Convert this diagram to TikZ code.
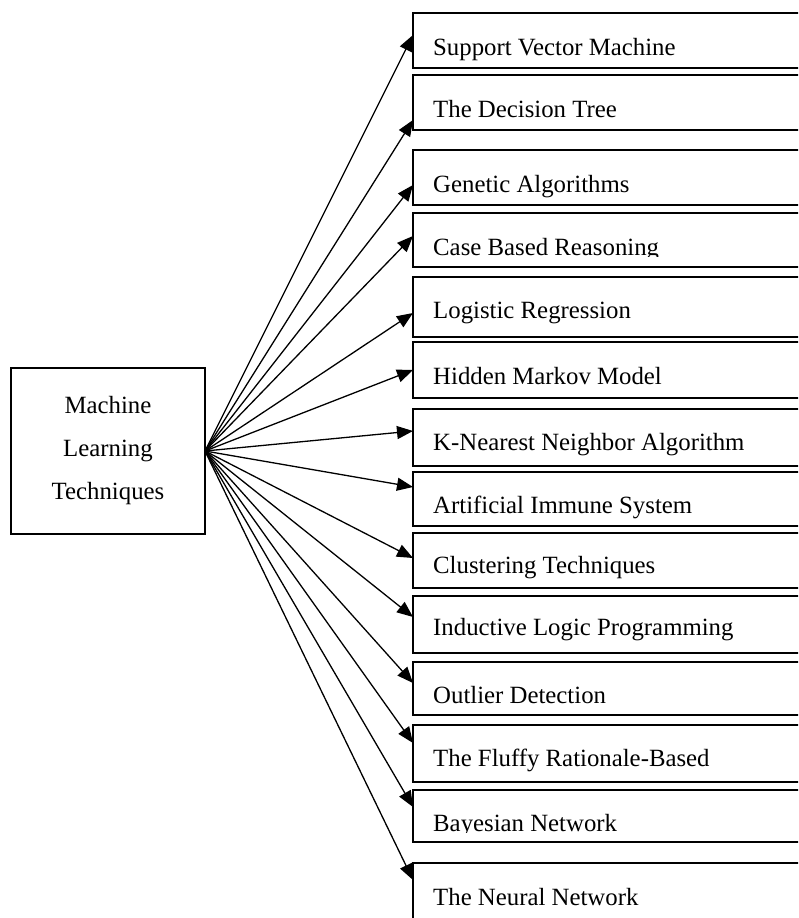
\documentclass[tikz,border=0pt]{standalone}
\usepackage{fontspec}
\setmainfont{Liberation Serif}
\usetikzlibrary{arrows.meta}
\begin{document}
\begin{tikzpicture}[x=1pt,y=-1pt,
  box/.style={draw, line width=2.8pt, minimum width=420pt, inner sep=0pt, outer sep=0pt, anchor=north west},
  mlbox/.style={draw, line width=2.8pt, minimum width=194pt, minimum height=166pt, inner sep=0pt, outer sep=0pt, align=center, font=\fontsize{24.8}{43}\selectfont},
  lbl/.style={anchor=base west, inner sep=0pt, font=\fontsize{24.8}{28}\selectfont},
  arr/.style={line width=1.3pt, -{Triangle[length=16pt,width=13pt]}}]
\useasboundingbox (0,0) rectangle (798,918);
\clip (0,0) rectangle (798,918);
\fill[white] (0,0) rectangle (798,918);

\node[mlbox] (ml) at (108,451) {Machine\\Learning\\Techniques};

\node[box, minimum height=55pt] (b1) at (413,13) {};
\node[box, minimum height=55pt] (b2) at (413,75) {};
\node[box, minimum height=55pt] (b3) at (413,150) {};
\node[box, minimum height=54pt] (b4) at (413,213) {};
\node[box, minimum height=60pt] (b5) at (413,277) {};
\node[box, minimum height=56pt] (b6) at (413,342) {};
\node[box, minimum height=57pt] (b7) at (413,409) {};
\node[box, minimum height=54pt] (b8) at (413,472) {};
\node[box, minimum height=55pt] (b9) at (413,533) {};
\node[box, minimum height=57pt] (b10) at (413,596) {};
\node[box, minimum height=53pt] (b11) at (413,662) {};
\node[box, minimum height=57pt] (b12) at (413,725) {};
\node[box, minimum height=52pt] (b13) at (413,790) {};
\node[box, minimum height=67pt] (b14) at (413,863) {};

\node[lbl] (t1) at (433,55) {Support Vector Machine};
\node[lbl] (t2) at (433,117) {The Decision Tree};
\node[lbl] (t3) at (433,192) {Genetic Algorithms};
\begin{scope}
\clip (414,214) rectangle (798,256);
\node[lbl] (t4) at (433,255) {Case Based Reasoning};
\end{scope}
\node[lbl] (t5) at (433,318) {Logistic Regression};
\node[lbl] (t6) at (433,384) {Hidden Markov Model};
\node[lbl] (t7) at (433,450) {K-Nearest Neighbor Algorithm};
\node[lbl] (t8) at (433,513) {Artificial Immune System};
\node[lbl] (t9) at (433,573) {Clustering Techniques};
\node[lbl] (t10) at (433,635) {Inductive Logic Programming};
\node[lbl] (t11) at (433,703) {Outlier Detection};
\node[lbl] (t12) at (433,766) {The Fluffy Rationale-Based};
\begin{scope}
\clip (414,791) rectangle (798,832);
\node[lbl] (t13) at (433,831) {Bayesian Network};
\end{scope}
\node[lbl] (t14) at (433,905) {The Neural Network};

\draw[arr] (ml.east) -- (b1.west |- 0,35);
\draw[arr] (ml.east) -- (b2.west |- 0,120);
\draw[arr] (ml.east) -- (b3.west |- 0,185);
\draw[arr] (ml.east) -- (b4.west |- 0,236);
\draw[arr] (ml.east) -- (b5.west |- 0,313);
\draw[arr] (ml.east) -- (b6.west |- 0,370);
\draw[arr] (ml.east) -- (b7.west |- 0,431);
\draw[arr] (ml.east) -- (b8.west |- 0,487);
\draw[arr] (ml.east) -- (b9.west |- 0,558);
\draw[arr] (ml.east) -- (b10.west |- 0,617);
\draw[arr] (ml.east) -- (b11.west |- 0,683);
\draw[arr] (ml.east) -- (b12.west |- 0,743);
\draw[arr] (ml.east) -- (b13.west |- 0,807);
\draw[arr] (ml.east) -- (b14.west |- 0,880);
\end{tikzpicture}
\end{document}
